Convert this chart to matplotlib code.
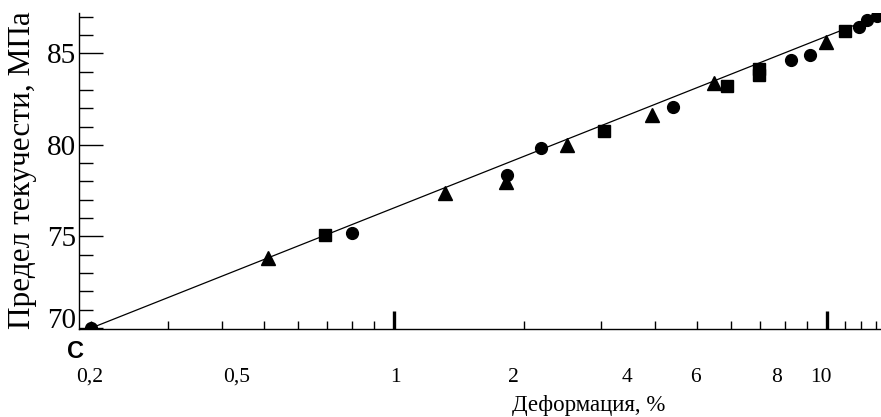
import matplotlib
matplotlib.use('Agg')
import matplotlib.pyplot as plt
import matplotlib.transforms as mtransforms
import numpy as np

# Деформация, % и предел текучести, МПа
circ_x = [0.2, 0.80, 1.82, 2.18, 4.42, 8.25, 9.14, 11.88, 12.35, 13.03]
circ_y = [70.0, 75.2, 78.35, 79.85, 82.09, 84.64, 84.91, 86.42, 86.82, 87.04]

tri_x = [0.512, 1.31, 1.81, 2.506, 3.94, 5.48, 9.95]
tri_y = [73.8, 77.36, 77.95, 79.99, 81.63, 83.40, 85.64]

sq_x = [0.693, 3.06, 5.87, 6.98, 6.98, 11.0]
sq_y = [75.08, 80.76, 83.24, 84.12, 83.79, 86.24]

# прямая аппроксимации
line_x = [0.2, 13.3]
line_y = [70.0, 87.1]

x_minor = [0.2, 0.3, 0.4, 0.5, 0.6, 0.7, 0.8, 0.9, 2, 3, 4, 5, 6, 7, 8, 9, 11, 12, 13]
x_major = [1, 10]
# подписи на рисунке стоят не точно под штрихами
x_labels = ['0,2', '0,5', '1', '2', '4', '6', '8', '10']
x_label_at = [0.198, 0.434, 1.01, 1.89, 3.45, 4.98, 7.66, 9.69]

y_major = [70, 75, 80, 85]
y_minor = np.arange(71, 88)

plt.rcParams['font.family'] = ['Liberation Serif', 'DejaVu Serif']

fig = plt.figure(figsize=(8.81, 4.17), dpi=100)
ax = fig.add_axes([79 / 881, 88 / 417, 802 / 881, 316 / 417])

ax.plot(line_x, line_y, color='black', lw=0.9)
ax.plot(circ_x, circ_y, 'o', color='black', ms=8.5)
ax.plot(tri_x, tri_y, '^', color='black', ms=9.5)
ax.plot(sq_x, sq_y, 's', color='black', ms=8)

ax.set_xscale('log')
ax.set_xlim(0.1873, 13.33)
ax.set_ylim(69.945, 87.2)

for s in ['top', 'right']:
    ax.spines[s].set_visible(False)
ax.spines['left'].set_linewidth(1.0)
ax.spines['bottom'].set_linewidth(1.0)

ax.set_xticks(x_major)
ax.set_xticks(x_minor, minor=True)
ax.set_xticklabels([])
ax.set_xticklabels([], minor=True)
ax.tick_params(axis='x', which='major', direction='in', length=13, width=2.4)
ax.tick_params(axis='x', which='minor', direction='in', length=6, width=1.0)

ax.set_yticks(y_major)
ax.set_yticks(y_minor, minor=True)
ax.set_yticklabels([str(v) for v in y_major], fontsize=21)
ax.tick_params(axis='y', which='major', direction='in', length=17, width=1.0, pad=2)
ax.tick_params(axis='y', which='minor', direction='in', length=10, width=1.0)

# подпись "70" на оригинале чуть выше своего штриха
lab70 = ax.get_yticklabels()[0]
lab70.set_transform(lab70.get_transform() + mtransforms.ScaledTranslation(0, 7 / 72, fig.dpi_scale_trans))

trans = mtransforms.blended_transform_factory(ax.transData, fig.transFigure)
for lab, xv in zip(x_labels, x_label_at):
    ax.text(xv, 1 - 377 / 417, lab, transform=trans, ha='center', va='center', fontsize=15.5)

ax.text(2.81, 1 - 405 / 417, 'Деформация, %', transform=trans, ha='center', va='center', fontsize=16.5)
fig.text(23 / 881, 1 - 170 / 417, 'Предел текучести, МПа', rotation=90,
         ha='center', va='center', fontsize=22.5)
fig.text(76 / 881, 1 - 351 / 417, 'C', ha='center', va='center', fontsize=17,
         family='Liberation Sans', weight='bold')

fig.savefig('out.png', dpi=100)
